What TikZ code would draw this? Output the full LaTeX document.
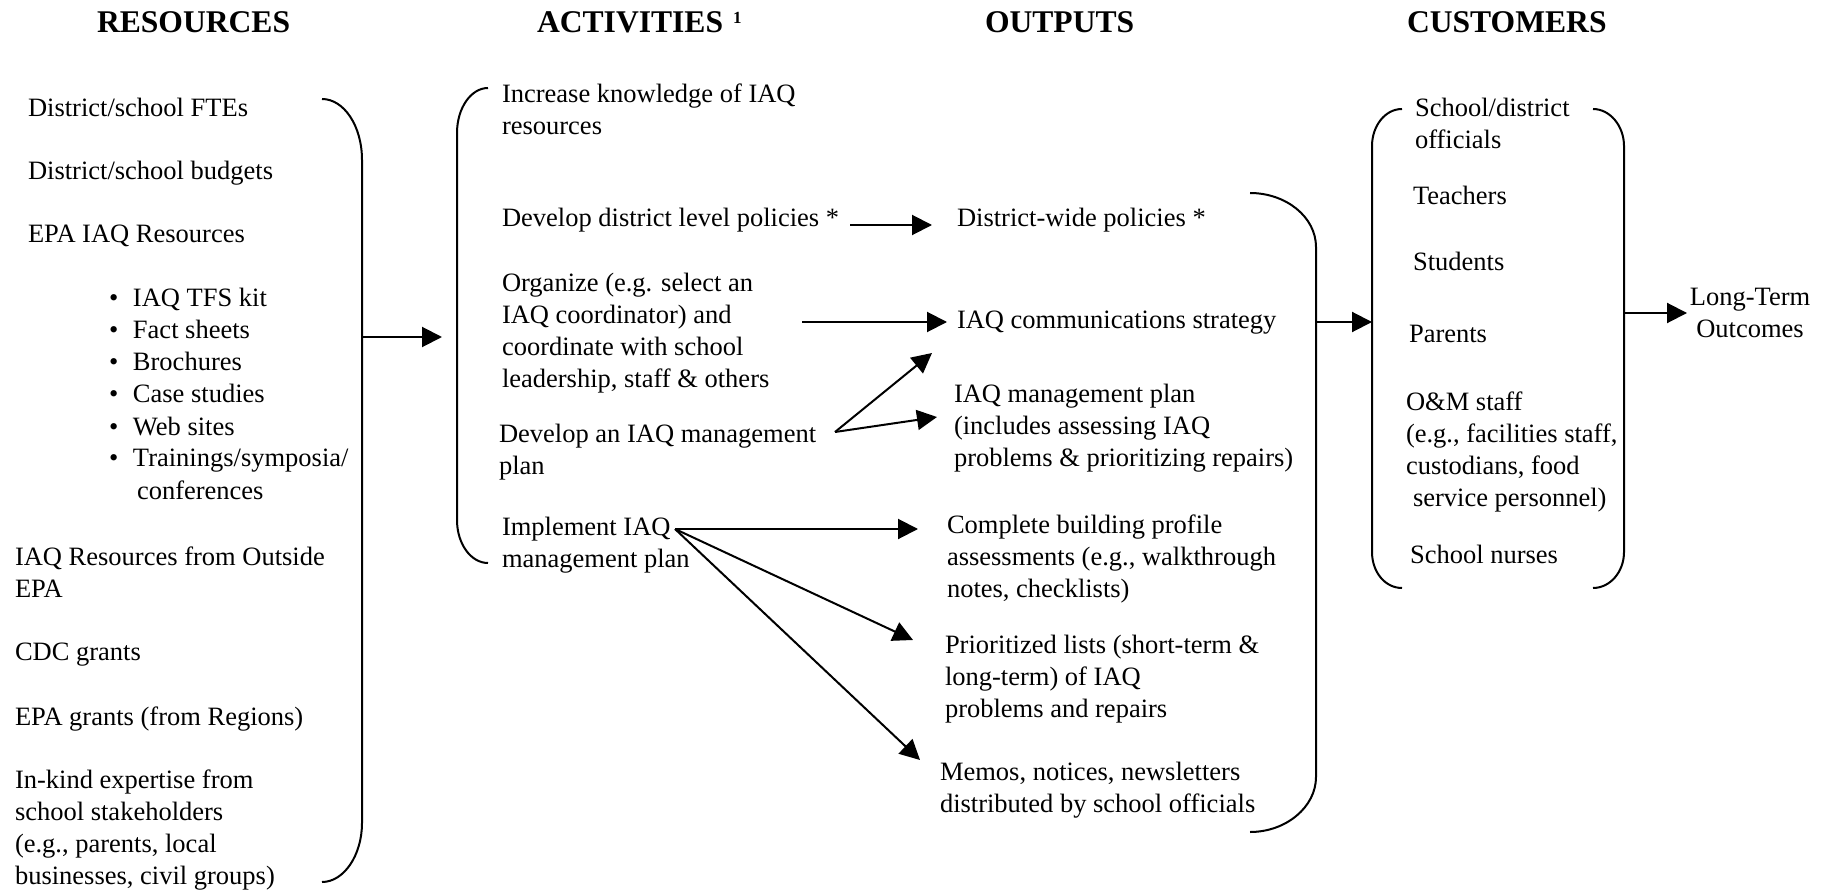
\documentclass[tikz,border=0pt]{standalone}
\usepackage{fontspec}
\setmainfont{Liberation Serif}
\usetikzlibrary{arrows.meta}
\newcommand{\ml}[1]{\begin{tabular}[t]{@{}l@{}}#1\end{tabular}}
\newcommand{\mlc}[1]{\begin{tabular}[t]{@{}c@{}}#1\end{tabular}}
\newcommand{\bitem}[1]{\makebox[24pt][l]{\textbullet}#1}
\begin{document}
\begin{tikzpicture}[x=1pt,y=-1pt,
  txt/.style={anchor=base west,inner sep=0pt,outer sep=0pt,font=\fontsize{26.5}{32}\selectfont},
  hdr/.style={anchor=base west,inner sep=0pt,outer sep=0pt,font=\bfseries\fontsize{31.6}{36}\selectfont},
  conn/.style={line width=2pt,-{Triangle[length=20pt,width=20pt]}},
  brace/.style={line width=2pt}]
\useasboundingbox (0,0) rectangle (1835,890);
% headers
\node[hdr] (hres) at (97,33) {RESOURCES};
\node[hdr] (hact) at (537,33) {ACTIVITIES\hspace{10pt}\raisebox{9pt}{\fontsize{17}{17}\selectfont 1}};
\node[hdr] (hout) at (985,33) {OUTPUTS};
\node[hdr] (hcus) at (1407,33) {CUSTOMERS};
% resources
\node[txt] (r1) at (28,117) {District/school FTEs};
\node[txt] (r2) at (28,180) {District/school budgets};
\node[txt] (r3) at (28,243) {EPA IAQ Resources};
\node[txt] (rb) at (109,307) {\ml{\bitem{IAQ TFS kit}\\ \bitem{Fact sheets}\\ \bitem{Brochures}\\ \bitem{Case studies}\\ \bitem{Web sites}\\ \bitem{Trainings/symposia/}\\ \hspace{28pt}conferences}};
\node[txt] (r4) at (15,565) {\ml{IAQ Resources from Outside\\EPA}};
\node[txt] (r5) at (15,660) {CDC grants};
\node[txt] (r6) at (15,725) {EPA grants (from Regions)};
\node[txt] (r7) at (15,788) {\ml{In-kind expertise from\\school stakeholders\\(e.g., parents, local\\businesses, civil groups)}};
% activities
\node[txt] (a1) at (502,103) {\ml{Increase knowledge of IAQ\\resources}};
\node[txt] (a2) at (502,227) {Develop district level policies *};
\node[txt] (a3) at (502,292) {\ml{Organize (e.g. select an\\IAQ coordinator) and\\coordinate with school\\leadership, staff \& others}};
\node[txt] (a4) at (499,442) {\ml{Develop an IAQ management\\plan}};
\node[txt] (a5) at (502,535) {\ml{Implement IAQ\\management plan}};
% outputs
\node[txt] (o1) at (957,227) {District-wide policies *};
\node[txt] (o2) at (957,328) {IAQ communications strategy};
\node[txt] (o3) at (954,402) {\ml{IAQ management plan\\(includes assessing IAQ\\problems \& prioritizing repairs)}};
\node[txt] (o4) at (947,533) {\ml{Complete building profile\\assessments (e.g., walkthrough\\notes, checklists)}};
\node[txt] (o5) at (945,653) {\ml{Prioritized lists (short-term \&\\long-term) of IAQ\\problems and repairs}};
\node[txt] (o6) at (940,780) {\ml{Memos, notices, newsletters\\distributed by school officials}};
% customers
\node[txt] (c1) at (1415,117) {\ml{School/district\\officials}};
\node[txt] (c2) at (1413,205) {Teachers};
\node[txt] (c3) at (1413,271) {Students};
\node[txt] (c4) at (1409,342) {Parents};
\node[txt] (c5) at (1406,410) {\ml{O\&M staff\\(e.g., facilities staff,\\custodians, food\\\hspace{7pt}service personnel)}};
\node[txt] (c6) at (1410,563) {School nurses};
\node[txt,anchor=base] (lt) at (1750,306) {\mlc{Long-Term\\Outcomes}};
% braces
\draw[brace] (322,99) .. controls (344,99) and (362,126) .. (362,160) -- (362,823) .. controls (362,855) and (344,882) .. (322,882);
\draw[brace] (488,88) .. controls (471,88) and (457,108) .. (457,133) -- (457,520) .. controls (457,544) and (471,563) .. (488,563);
\draw[brace] (1250,193) .. controls (1286,193) and (1316,217) .. (1316,247) -- (1316,777) .. controls (1316,807) and (1286,832) .. (1250,832);
\draw[brace] (1402,109) .. controls (1385,109) and (1372,126) .. (1372,146) -- (1372,552) .. controls (1372,572) and (1385,588) .. (1402,588);
\draw[brace] (1593,109) .. controls (1610,109) and (1624,126) .. (1624,146) -- (1624,552) .. controls (1624,572) and (1610,588) .. (1593,588);
% connector end points
\coordinate (resout) at (362,337);
\coordinate (actin) at (442,337);
\coordinate (a2s) at (850,225);
\coordinate (o1e) at (932,225);
\coordinate (a3s) at (802,322);
\coordinate (o2e) at (947,322);
\coordinate (a4s) at (835,432);
\coordinate (o2e2) at (932,353);
\coordinate (o3e) at (937,417);
\coordinate (a5s) at (675,529);
\coordinate (o4e) at (918,529);
\coordinate (o5e) at (913,640);
\coordinate (o6e) at (920,760);
\coordinate (outout) at (1316,322);
\coordinate (cusin) at (1372,322);
\coordinate (cusout) at (1624,313);
\coordinate (lte) at (1687,313);
% connectors
\draw[conn] (resout) -- (actin);
\draw[conn] (a2s) -- (o1e);
\draw[conn] (a3s) -- (o2e);
\draw[conn] (a4s) -- (o2e2);
\draw[conn] (a4s) -- (o3e);
\draw[conn] (a5s) -- (o4e);
\draw[conn] (a5s) -- (o5e);
\draw[conn] (a5s) -- (o6e);
\draw[conn] (outout) -- (cusin);
\draw[conn] (cusout) -- (lte);
\end{tikzpicture}
\end{document}
